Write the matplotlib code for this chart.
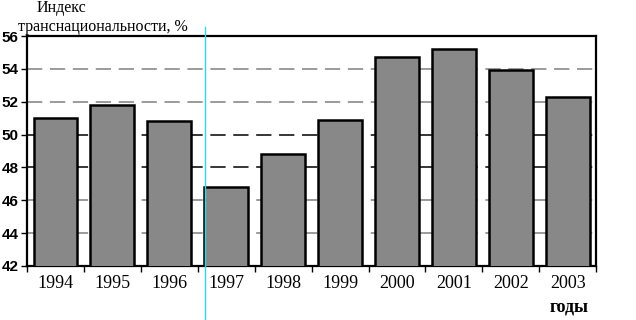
import matplotlib.pyplot as plt
from matplotlib.lines import Line2D

# данные
years = ['1994', '1995', '1996', '1997', '1998', '1999', '2000', '2001', '2002', '2003']
index_vals = [51.0, 51.8, 50.8, 46.8, 48.8, 50.9, 54.7, 55.2, 53.9, 52.3]
y_ticks = [42, 44, 46, 48, 50, 52, 54, 56]

fig = plt.figure(figsize=(6.36, 3.2), dpi=100)
ax = fig.add_axes([0.0425, 0.169, 0.895, 0.7185])

x = list(range(len(years)))
ax.bar(x, index_vals, width=0.77, bottom=0, color='#888888',
       edgecolor='black', linewidth=1.8, zorder=3)

ax.set_xlim(-0.5, len(years) - 0.5)
ax.set_ylim(42, 56)

# сетка: 50 и 48 черные, остальные серые
for v in [44, 46, 52, 54]:
    ax.axhline(v, color='#808080', linestyle=(0, (10, 5)), linewidth=1.1, zorder=1)
for v in [48, 50]:
    ax.axhline(v, color='black', linestyle=(0, (10, 5)), linewidth=1.1, zorder=1)

ax.set_yticks(y_ticks)
ax.set_yticklabels([str(v) for v in y_ticks], fontweight='bold', fontsize=11,
                   family=['Liberation Sans Narrow', 'DejaVu Sans Condensed',
                           'Liberation Sans'])
ax.tick_params(axis='y', direction='out', length=4, width=1, pad=2)

# метки на границах категорий
ax.set_xticks([i - 0.5 for i in range(len(years) + 1)])
ax.set_xticklabels([])
ax.tick_params(axis='x', direction='out', length=4, width=1)
for i, yr in enumerate(years):
    ax.text(i, 40.95, yr, ha='center', va='center', fontsize=13,
            family='Liberation Serif')

for s in ax.spines.values():
    s.set_linewidth(1.6)

fig.text(0.058, 1.0, 'Индекс', ha='left', va='top', fontsize=11.5,
         family='Liberation Serif')
fig.text(0.028, 0.942, 'транснациональности, %', ha='left', va='top', fontsize=11.5,
         family='Liberation Serif')
fig.text(0.895, 0.04, 'годы', ha='center', va='center', fontsize=13,
         family='Liberation Serif', fontweight='bold')

# тонкая голубая линия
fig.add_artist(Line2D([205 / 636, 205 / 636], [0, 1 - 27 / 320],
                      transform=fig.transFigure, color='#33d6e6', linewidth=1))

fig.savefig('out.png', dpi=100)
